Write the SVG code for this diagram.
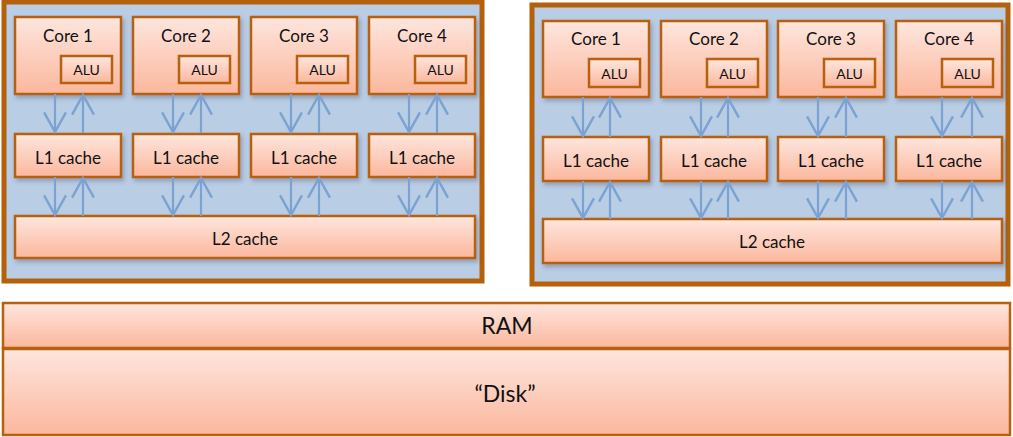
<svg xmlns="http://www.w3.org/2000/svg" width="1013" height="437" viewBox="0 0 1013 437">
  <defs>
    <linearGradient id="peach" x1="0" y1="0" x2="0" y2="1">
      <stop offset="0" stop-color="#fee6de"/>
      <stop offset="1" stop-color="#fbb79d"/>
    </linearGradient>
    <filter id="shadow" x="-10%" y="-10%" width="125%" height="135%">
      <feDropShadow dx="2" dy="3" stdDeviation="2" flood-color="#3a4a66" flood-opacity="0.35"/>
    </filter>
    <marker id="head" markerUnits="userSpaceOnUse" markerWidth="24" markerHeight="24" viewBox="0 0 22 22" refX="20" refY="11" orient="auto">
      <path d="M2,1 L20,11 L2,21" fill="none" stroke="#7ba2d0" stroke-width="2.2"/>
    </marker>
  </defs>
  <style>
    .box { fill: url(#peach); stroke: #b7610c; stroke-width: 2.5; }
    .chip { fill: #b9cde5; stroke: #b5600b; stroke-width: 5; }
    .lbl { font-family: Lato, "Open Sans", "Liberation Sans", sans-serif; font-size: 17px; fill: #111; text-anchor: middle; }
    .alu { font-family: Lato, "Open Sans", "Liberation Sans", sans-serif; font-size: 14px; fill: #111; text-anchor: middle; }
    .big { font-family: Lato, "Open Sans", "Liberation Sans", sans-serif; font-size: 23px; fill: #111; text-anchor: middle; }
    .link line { stroke: #7ba2d0; stroke-width: 2.2; marker-end: url(#head); }
  </style>

  <!-- processor A -->
  <g id="cpu-left">
    <rect class="chip" x="4" y="2" width="478" height="279"/>
    <g id="cpuL-core1" transform="translate(15,17)">
      <g filter="url(#shadow)">
        <rect class="box" x="0" y="0" width="106" height="77"/>
        <rect class="box" x="46" y="39" width="51" height="27"/>
        <rect class="box" x="0" y="117" width="106" height="43"/>
      </g>
      <text class="lbl" x="53" y="25">Core 1</text>
      <text class="alu" x="71.5" y="58">ALU</text>
      <text class="lbl" x="53" y="147">L1 cache</text>
    </g>
    <g id="cpuL-core2" transform="translate(133,17)">
      <g filter="url(#shadow)">
        <rect class="box" x="0" y="0" width="106" height="77"/>
        <rect class="box" x="46" y="39" width="51" height="27"/>
        <rect class="box" x="0" y="117" width="106" height="43"/>
      </g>
      <text class="lbl" x="53" y="25">Core 2</text>
      <text class="alu" x="71.5" y="58">ALU</text>
      <text class="lbl" x="53" y="147">L1 cache</text>
    </g>
    <g id="cpuL-core3" transform="translate(251,17)">
      <g filter="url(#shadow)">
        <rect class="box" x="0" y="0" width="106" height="77"/>
        <rect class="box" x="46" y="39" width="51" height="27"/>
        <rect class="box" x="0" y="117" width="106" height="43"/>
      </g>
      <text class="lbl" x="53" y="25">Core 3</text>
      <text class="alu" x="71.5" y="58">ALU</text>
      <text class="lbl" x="53" y="147">L1 cache</text>
    </g>
    <g id="cpuL-core4" transform="translate(369,17)">
      <g filter="url(#shadow)">
        <rect class="box" x="0" y="0" width="106" height="77"/>
        <rect class="box" x="46" y="39" width="51" height="27"/>
        <rect class="box" x="0" y="117" width="106" height="43"/>
      </g>
      <text class="lbl" x="53" y="25">Core 4</text>
      <text class="alu" x="71.5" y="58">ALU</text>
      <text class="lbl" x="53" y="147">L1 cache</text>
    </g>
    <g id="cpuL-l2">
      <rect class="box" x="15" y="216" width="460" height="42" filter="url(#shadow)"/>
      <text class="lbl" x="245" y="245">L2 cache</text>
    </g>
  </g>

  <!-- processor B -->
  <g id="cpu-right">
    <rect class="chip" x="532" y="5" width="476" height="279"/>
    <g id="cpuR-core1" transform="translate(543,21)">
      <g filter="url(#shadow)">
        <rect class="box" x="0" y="0" width="106" height="76"/>
        <rect class="box" x="46" y="38" width="51" height="28"/>
        <rect class="box" x="0" y="116" width="106" height="44"/>
      </g>
      <text class="lbl" x="53" y="24">Core 1</text>
      <text class="alu" x="71.5" y="58">ALU</text>
      <text class="lbl" x="53" y="146">L1 cache</text>
    </g>
    <g id="cpuR-core2" transform="translate(661,21)">
      <g filter="url(#shadow)">
        <rect class="box" x="0" y="0" width="106" height="76"/>
        <rect class="box" x="46" y="38" width="51" height="28"/>
        <rect class="box" x="0" y="116" width="106" height="44"/>
      </g>
      <text class="lbl" x="53" y="24">Core 2</text>
      <text class="alu" x="71.5" y="58">ALU</text>
      <text class="lbl" x="53" y="146">L1 cache</text>
    </g>
    <g id="cpuR-core3" transform="translate(778,21)">
      <g filter="url(#shadow)">
        <rect class="box" x="0" y="0" width="106" height="76"/>
        <rect class="box" x="46" y="38" width="51" height="28"/>
        <rect class="box" x="0" y="116" width="106" height="44"/>
      </g>
      <text class="lbl" x="53" y="24">Core 3</text>
      <text class="alu" x="71.5" y="58">ALU</text>
      <text class="lbl" x="53" y="146">L1 cache</text>
    </g>
    <g id="cpuR-core4" transform="translate(896,21)">
      <g filter="url(#shadow)">
        <rect class="box" x="0" y="0" width="106" height="76"/>
        <rect class="box" x="46" y="38" width="51" height="28"/>
        <rect class="box" x="0" y="116" width="106" height="44"/>
      </g>
      <text class="lbl" x="53" y="24">Core 4</text>
      <text class="alu" x="71.5" y="58">ALU</text>
      <text class="lbl" x="53" y="146">L1 cache</text>
    </g>
    <g id="cpuR-l2">
      <rect class="box" x="543" y="219" width="459" height="44" filter="url(#shadow)"/>
      <text class="lbl" x="772" y="248">L2 cache</text>
    </g>
  </g>

  <!-- memory hierarchy below the processors -->
  <g id="ram">
    <rect class="box" x="3" y="303" width="1007" height="45"/>
    <text class="big" x="507" y="334">RAM</text>
  </g>
  <g id="disk">
    <rect class="box" x="3" y="349" width="1007" height="86"/>
    <text class="big" x="505" y="402">“Disk”</text>
  </g>

  <!-- data paths: down = request/write, up = return -->
  <g id="connectors" class="link">
    <line x1="55" y1="94" x2="55" y2="132"/>
    <line x1="83" y1="133" x2="83" y2="95"/>
    <line x1="55" y1="177" x2="55" y2="215"/>
    <line x1="83" y1="216" x2="83" y2="178"/>
    <line x1="173" y1="94" x2="173" y2="132"/>
    <line x1="201" y1="133" x2="201" y2="95"/>
    <line x1="173" y1="177" x2="173" y2="215"/>
    <line x1="201" y1="216" x2="201" y2="178"/>
    <line x1="291" y1="94" x2="291" y2="132"/>
    <line x1="319" y1="133" x2="319" y2="95"/>
    <line x1="291" y1="177" x2="291" y2="215"/>
    <line x1="319" y1="216" x2="319" y2="178"/>
    <line x1="409" y1="94" x2="409" y2="132"/>
    <line x1="437" y1="133" x2="437" y2="95"/>
    <line x1="409" y1="177" x2="409" y2="215"/>
    <line x1="437" y1="216" x2="437" y2="178"/>

    <line x1="583" y1="97" x2="583" y2="136"/>
    <line x1="610" y1="137" x2="610" y2="98"/>
    <line x1="583" y1="181" x2="583" y2="218"/>
    <line x1="610" y1="219" x2="610" y2="182"/>
    <line x1="701" y1="97" x2="701" y2="136"/>
    <line x1="728" y1="137" x2="728" y2="98"/>
    <line x1="701" y1="181" x2="701" y2="218"/>
    <line x1="728" y1="219" x2="728" y2="182"/>
    <line x1="818" y1="97" x2="818" y2="136"/>
    <line x1="846" y1="137" x2="846" y2="98"/>
    <line x1="818" y1="181" x2="818" y2="218"/>
    <line x1="846" y1="219" x2="846" y2="182"/>
    <line x1="942" y1="97" x2="942" y2="136"/>
    <line x1="972" y1="137" x2="972" y2="98"/>
    <line x1="942" y1="181" x2="942" y2="218"/>
    <line x1="972" y1="219" x2="972" y2="182"/>
  </g>
</svg>
